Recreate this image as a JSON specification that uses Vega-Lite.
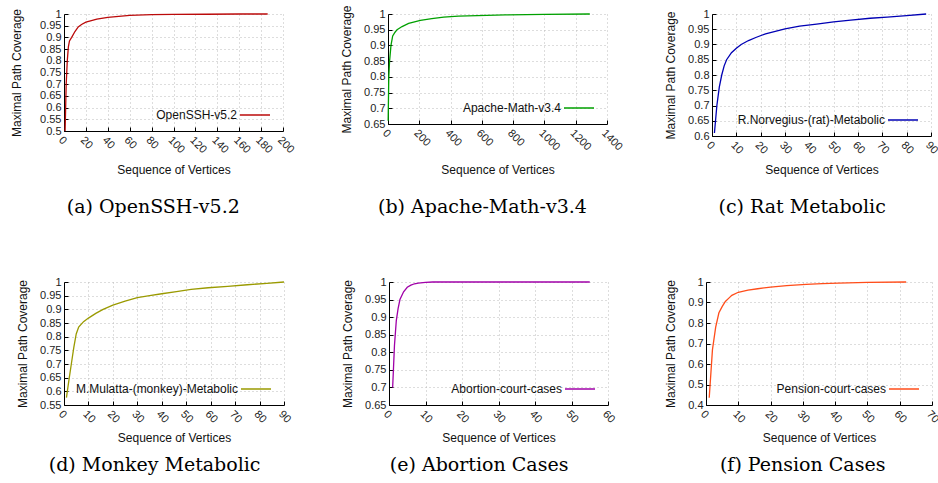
{
  "$schema": "https://vega.github.io/schema/vega-lite/v6.json",
  "padding": {"left": 10, "top": 4, "right": 5, "bottom": 5},
  "background": "white",
  "config": {
    "view": {"stroke": null},
    "font": "Liberation Sans",
    "axis": {
      "labelFont": "Liberation Sans",
      "labelFontSize": 11,
      "labelColor": "#222222",
      "labelOverlap": false,
      "labelFlush": false,
      "titleFont": "Liberation Sans",
      "titleFontSize": 12,
      "titleFontWeight": "normal",
      "titleColor": "#111111",
      "domainColor": "#000000",
      "domainWidth": 1,
      "tickColor": "#000000",
      "tickSize": -4,
      "gridColor": "#bbbbbb",
      "gridDash": [1, 3],
      "gridWidth": 1
    },
    "axisX": {"labelAngle": 45, "labelAlign": "left", "labelBaseline": "top", "labelPadding": 7, "titleBaseline": "top", "format": "d"},
    "axisY": {"labelPadding": 7, "titlePadding": 10, "format": "~g"},
    "legend": {
      "orient": "bottom-right",
      "offset": 10,
      "padding": 0,
      "symbolType": "stroke",
      "symbolSize": 900,
      "symbolStrokeWidth": 1.5,
      "labelFont": "Liberation Sans",
      "labelFontSize": 12,
      "labelColor": "#111111",
      "labelAlign": "right",
      "labelOffset": -34,
      "labelLimit": 300
    },
    "title": {"font": "DejaVu Serif", "fontSize": 19, "fontWeight": "normal", "color": "#000000", "orient": "bottom", "anchor": "middle", "frame": "bounds", "offset": 16}
  },
  "resolve": {"scale": {"color": "independent"}, "legend": {"color": "independent"}},
  "bounds": "flush",
  "spacing": 268,
  "vconcat": [
    {
      "bounds": "flush",
      "spacing": 105,
      "resolve": {"scale": {"color": "independent"}, "legend": {"color": "independent"}},
      "hconcat": [
        {
          "width": 219, "height": 117,
          "title": {"text": "(a) OpenSSH-v5.2", "offset": 23},
          "data": {"values": [
            {"v": 1, "c": 0.5, "s": "OpenSSH-v5.2"}, {"v": 2, "c": 0.7, "s": "OpenSSH-v5.2"}, {"v": 3, "c": 0.8, "s": "OpenSSH-v5.2"},
            {"v": 4, "c": 0.86, "s": "OpenSSH-v5.2"}, {"v": 5, "c": 0.885, "s": "OpenSSH-v5.2"}, {"v": 7, "c": 0.9, "s": "OpenSSH-v5.2"},
            {"v": 10, "c": 0.925, "s": "OpenSSH-v5.2"}, {"v": 13, "c": 0.945, "s": "OpenSSH-v5.2"}, {"v": 16, "c": 0.955, "s": "OpenSSH-v5.2"},
            {"v": 20, "c": 0.965, "s": "OpenSSH-v5.2"}, {"v": 25, "c": 0.972, "s": "OpenSSH-v5.2"}, {"v": 30, "c": 0.978, "s": "OpenSSH-v5.2"},
            {"v": 40, "c": 0.986, "s": "OpenSSH-v5.2"}, {"v": 50, "c": 0.99, "s": "OpenSSH-v5.2"}, {"v": 60, "c": 0.994, "s": "OpenSSH-v5.2"},
            {"v": 80, "c": 0.997, "s": "OpenSSH-v5.2"}, {"v": 100, "c": 0.998, "s": "OpenSSH-v5.2"}, {"v": 130, "c": 0.999, "s": "OpenSSH-v5.2"},
            {"v": 160, "c": 1.0, "s": "OpenSSH-v5.2"}, {"v": 186, "c": 1.0, "s": "OpenSSH-v5.2"}
          ]},
          "mark": {"type": "line", "strokeWidth": 1.3},
          "encoding": {
            "x": {"field": "v", "type": "quantitative", "scale": {"domain": [0, 200], "nice": false}, "axis": {"values": [0, 20, 40, 60, 80, 100, 120, 140, 160, 180, 200], "title": "Sequence of Vertices", "titleY": 33}},
            "y": {"field": "c", "type": "quantitative", "scale": {"domain": [0.5, 1], "zero": false, "nice": false}, "axis": {"values": [0.5, 0.55, 0.6, 0.65, 0.7, 0.75, 0.8, 0.85, 0.9, 0.95, 1], "title": "Maximal Path Coverage", "titlePadding": 16}},
            "color": {"field": "s", "type": "nominal", "scale": {"range": ["#bb0a0a"]}, "legend": {"title": null}}
          }
        },
        {
          "width": 219, "height": 110,
          "title": {"text": "(b) Apache-Math-v3.4", "offset": 23},
          "data": {"values": [
            {"v": 1, "c": 0.66, "s": "Apache-Math-v3.4"}, {"v": 5, "c": 0.8, "s": "Apache-Math-v3.4"}, {"v": 10, "c": 0.85, "s": "Apache-Math-v3.4"},
            {"v": 19, "c": 0.9, "s": "Apache-Math-v3.4"}, {"v": 30, "c": 0.93, "s": "Apache-Math-v3.4"}, {"v": 45, "c": 0.942, "s": "Apache-Math-v3.4"},
            {"v": 58, "c": 0.95, "s": "Apache-Math-v3.4"}, {"v": 90, "c": 0.96, "s": "Apache-Math-v3.4"}, {"v": 132, "c": 0.97, "s": "Apache-Math-v3.4"},
            {"v": 207, "c": 0.98, "s": "Apache-Math-v3.4"}, {"v": 280, "c": 0.985, "s": "Apache-Math-v3.4"}, {"v": 356, "c": 0.99, "s": "Apache-Math-v3.4"},
            {"v": 450, "c": 0.993, "s": "Apache-Math-v3.4"}, {"v": 570, "c": 0.995, "s": "Apache-Math-v3.4"}, {"v": 750, "c": 0.997, "s": "Apache-Math-v3.4"},
            {"v": 1000, "c": 0.999, "s": "Apache-Math-v3.4"}, {"v": 1290, "c": 1.0, "s": "Apache-Math-v3.4"}
          ]},
          "mark": {"type": "line", "strokeWidth": 1.3},
          "encoding": {
            "x": {"field": "v", "type": "quantitative", "scale": {"domain": [0, 1400], "nice": false}, "axis": {"values": [0, 200, 400, 600, 800, 1000, 1200, 1400], "title": "Sequence of Vertices", "titleY": 40}},
            "y": {"field": "c", "type": "quantitative", "scale": {"domain": [0.65, 1], "zero": false, "nice": false}, "axis": {"values": [0.65, 0.7, 0.75, 0.8, 0.85, 0.9, 0.95, 1], "title": "Maximal Path Coverage"}},
            "color": {"field": "s", "type": "nominal", "scale": {"range": ["#00a000"]}, "legend": {"title": null}}
          }
        },
        {
          "width": 219, "height": 122,
          "title": {"text": "(c) Rat Metabolic", "offset": 23},
          "data": {"values": [
            {"v": 1, "c": 0.61, "s": "R.Norvegius-(rat)-Metabolic"}, {"v": 2, "c": 0.7, "s": "R.Norvegius-(rat)-Metabolic"}, {"v": 3, "c": 0.76, "s": "R.Norvegius-(rat)-Metabolic"},
            {"v": 4, "c": 0.8, "s": "R.Norvegius-(rat)-Metabolic"}, {"v": 5, "c": 0.83, "s": "R.Norvegius-(rat)-Metabolic"}, {"v": 6, "c": 0.85, "s": "R.Norvegius-(rat)-Metabolic"},
            {"v": 8, "c": 0.873, "s": "R.Norvegius-(rat)-Metabolic"}, {"v": 10, "c": 0.888, "s": "R.Norvegius-(rat)-Metabolic"}, {"v": 12, "c": 0.9, "s": "R.Norvegius-(rat)-Metabolic"},
            {"v": 15, "c": 0.913, "s": "R.Norvegius-(rat)-Metabolic"}, {"v": 18, "c": 0.923, "s": "R.Norvegius-(rat)-Metabolic"}, {"v": 22, "c": 0.935, "s": "R.Norvegius-(rat)-Metabolic"},
            {"v": 26, "c": 0.943, "s": "R.Norvegius-(rat)-Metabolic"}, {"v": 30, "c": 0.951, "s": "R.Norvegius-(rat)-Metabolic"}, {"v": 36, "c": 0.96, "s": "R.Norvegius-(rat)-Metabolic"},
            {"v": 43, "c": 0.967, "s": "R.Norvegius-(rat)-Metabolic"}, {"v": 50, "c": 0.974, "s": "R.Norvegius-(rat)-Metabolic"}, {"v": 57, "c": 0.98, "s": "R.Norvegius-(rat)-Metabolic"},
            {"v": 65, "c": 0.986, "s": "R.Norvegius-(rat)-Metabolic"}, {"v": 72, "c": 0.99, "s": "R.Norvegius-(rat)-Metabolic"}, {"v": 80, "c": 0.995, "s": "R.Norvegius-(rat)-Metabolic"},
            {"v": 88, "c": 1.0, "s": "R.Norvegius-(rat)-Metabolic"}
          ]},
          "mark": {"type": "line", "strokeWidth": 1.3},
          "encoding": {
            "x": {"field": "v", "type": "quantitative", "scale": {"domain": [0, 90], "nice": false}, "axis": {"values": [0, 10, 20, 30, 40, 50, 60, 70, 80, 90], "title": "Sequence of Vertices", "titleY": 28}},
            "y": {"field": "c", "type": "quantitative", "scale": {"domain": [0.6, 1], "zero": false, "nice": false}, "axis": {"values": [0.6, 0.65, 0.7, 0.75, 0.8, 0.85, 0.9, 0.95, 1], "title": "Maximal Path Coverage"}},
            "color": {"field": "s", "type": "nominal", "scale": {"range": ["#0000b4"]}, "legend": {"title": null}}
          }
        }
      ]
    },
    {
      "bounds": "flush",
      "spacing": 105,
      "resolve": {"scale": {"color": "independent"}, "legend": {"color": "independent"}},
      "hconcat": [
        {
          "width": 220, "height": 123,
          "title": {"text": "(d) Monkey Metabolic", "offset": 13},
          "data": {"values": [
            {"v": 1, "c": 0.577, "s": "M.Mulatta-(monkey)-Metabolic"}, {"v": 2, "c": 0.64, "s": "M.Mulatta-(monkey)-Metabolic"}, {"v": 3, "c": 0.7, "s": "M.Mulatta-(monkey)-Metabolic"},
            {"v": 4, "c": 0.76, "s": "M.Mulatta-(monkey)-Metabolic"}, {"v": 5, "c": 0.81, "s": "M.Mulatta-(monkey)-Metabolic"}, {"v": 6, "c": 0.835, "s": "M.Mulatta-(monkey)-Metabolic"},
            {"v": 8, "c": 0.855, "s": "M.Mulatta-(monkey)-Metabolic"}, {"v": 10, "c": 0.868, "s": "M.Mulatta-(monkey)-Metabolic"}, {"v": 13, "c": 0.885, "s": "M.Mulatta-(monkey)-Metabolic"},
            {"v": 16, "c": 0.9, "s": "M.Mulatta-(monkey)-Metabolic"}, {"v": 20, "c": 0.915, "s": "M.Mulatta-(monkey)-Metabolic"}, {"v": 25, "c": 0.93, "s": "M.Mulatta-(monkey)-Metabolic"},
            {"v": 30, "c": 0.943, "s": "M.Mulatta-(monkey)-Metabolic"}, {"v": 35, "c": 0.95, "s": "M.Mulatta-(monkey)-Metabolic"}, {"v": 40, "c": 0.957, "s": "M.Mulatta-(monkey)-Metabolic"},
            {"v": 46, "c": 0.965, "s": "M.Mulatta-(monkey)-Metabolic"}, {"v": 52, "c": 0.973, "s": "M.Mulatta-(monkey)-Metabolic"}, {"v": 59, "c": 0.979, "s": "M.Mulatta-(monkey)-Metabolic"},
            {"v": 67, "c": 0.984, "s": "M.Mulatta-(monkey)-Metabolic"}, {"v": 75, "c": 0.99, "s": "M.Mulatta-(monkey)-Metabolic"}, {"v": 83, "c": 0.995, "s": "M.Mulatta-(monkey)-Metabolic"},
            {"v": 90, "c": 1.0, "s": "M.Mulatta-(monkey)-Metabolic"}
          ]},
          "mark": {"type": "line", "strokeWidth": 1.3},
          "encoding": {
            "x": {"field": "v", "type": "quantitative", "scale": {"domain": [0, 90], "nice": false}, "axis": {"values": [0, 10, 20, 30, 40, 50, 60, 70, 80, 90], "title": "Sequence of Vertices", "titleY": 27}},
            "y": {"field": "c", "type": "quantitative", "scale": {"domain": [0.55, 1], "zero": false, "nice": false}, "axis": {"values": [0.55, 0.6, 0.65, 0.7, 0.75, 0.8, 0.85, 0.9, 0.95, 1], "title": "Maximal Path Coverage"}},
            "color": {"field": "s", "type": "nominal", "scale": {"range": ["#9a9a00"]}, "legend": {"title": null}}
          }
        },
        {
          "bounds": "flush",
          "spacing": 98,
          "resolve": {"scale": {"color": "independent"}, "legend": {"color": "independent"}},
          "hconcat": [
            {
              "width": 219, "height": 123,
              "title": {"text": "(e) Abortion Cases", "offset": 13},
              "data": {"values": [
                {"v": 1, "c": 0.7, "s": "Abortion-court-cases"}, {"v": 1.5, "c": 0.82, "s": "Abortion-court-cases"}, {"v": 2, "c": 0.89, "s": "Abortion-court-cases"},
                {"v": 2.5, "c": 0.925, "s": "Abortion-court-cases"}, {"v": 3, "c": 0.95, "s": "Abortion-court-cases"}, {"v": 4, "c": 0.972, "s": "Abortion-court-cases"},
                {"v": 5, "c": 0.985, "s": "Abortion-court-cases"}, {"v": 6, "c": 0.991, "s": "Abortion-court-cases"}, {"v": 7, "c": 0.995, "s": "Abortion-court-cases"},
                {"v": 8, "c": 0.997, "s": "Abortion-court-cases"}, {"v": 10, "c": 0.999, "s": "Abortion-court-cases"}, {"v": 12, "c": 1.0, "s": "Abortion-court-cases"},
                {"v": 55, "c": 1.0, "s": "Abortion-court-cases"}
              ]},
              "mark": {"type": "line", "strokeWidth": 1.3},
              "encoding": {
                "x": {"field": "v", "type": "quantitative", "scale": {"domain": [0, 60], "nice": false}, "axis": {"values": [0, 10, 20, 30, 40, 50, 60], "title": "Sequence of Vertices", "titleY": 27}},
                "y": {"field": "c", "type": "quantitative", "scale": {"domain": [0.65, 1], "zero": false, "nice": false}, "axis": {"values": [0.65, 0.7, 0.75, 0.8, 0.85, 0.9, 0.95, 1], "title": "Maximal Path Coverage"}},
                "color": {"field": "s", "type": "nominal", "scale": {"range": ["#a000a8"]}, "legend": {"title": null}}
              }
            },
            {
              "width": 226, "height": 123,
              "title": {"text": "(f) Pension Cases", "offset": 13},
              "data": {"values": [
                {"v": 1, "c": 0.435, "s": "Pension-court-cases"}, {"v": 2, "c": 0.67, "s": "Pension-court-cases"}, {"v": 3, "c": 0.78, "s": "Pension-court-cases"},
                {"v": 4, "c": 0.85, "s": "Pension-court-cases"}, {"v": 5, "c": 0.88, "s": "Pension-court-cases"}, {"v": 6, "c": 0.905, "s": "Pension-court-cases"},
                {"v": 7, "c": 0.92, "s": "Pension-court-cases"}, {"v": 8, "c": 0.935, "s": "Pension-court-cases"}, {"v": 10, "c": 0.95, "s": "Pension-court-cases"},
                {"v": 13, "c": 0.96, "s": "Pension-court-cases"}, {"v": 16, "c": 0.967, "s": "Pension-court-cases"}, {"v": 20, "c": 0.975, "s": "Pension-court-cases"},
                {"v": 25, "c": 0.982, "s": "Pension-court-cases"}, {"v": 31, "c": 0.988, "s": "Pension-court-cases"}, {"v": 36, "c": 0.992, "s": "Pension-court-cases"},
                {"v": 41, "c": 0.995, "s": "Pension-court-cases"}, {"v": 50, "c": 0.998, "s": "Pension-court-cases"}, {"v": 62, "c": 1.0, "s": "Pension-court-cases"}
              ]},
              "mark": {"type": "line", "strokeWidth": 1.3},
              "encoding": {
                "x": {"field": "v", "type": "quantitative", "scale": {"domain": [0, 70], "nice": false}, "axis": {"values": [0, 10, 20, 30, 40, 50, 60, 70], "title": "Sequence of Vertices", "titleY": 27}},
                "y": {"field": "c", "type": "quantitative", "scale": {"domain": [0.4, 1], "zero": false, "nice": false}, "axis": {"values": [0.4, 0.5, 0.6, 0.7, 0.8, 0.9, 1], "title": "Maximal Path Coverage"}},
                "color": {"field": "s", "type": "nominal", "scale": {"range": ["#ff4d1a"]}, "legend": {"title": null}}
              }
            }
          ]
        }
      ]
    }
  ]
}
